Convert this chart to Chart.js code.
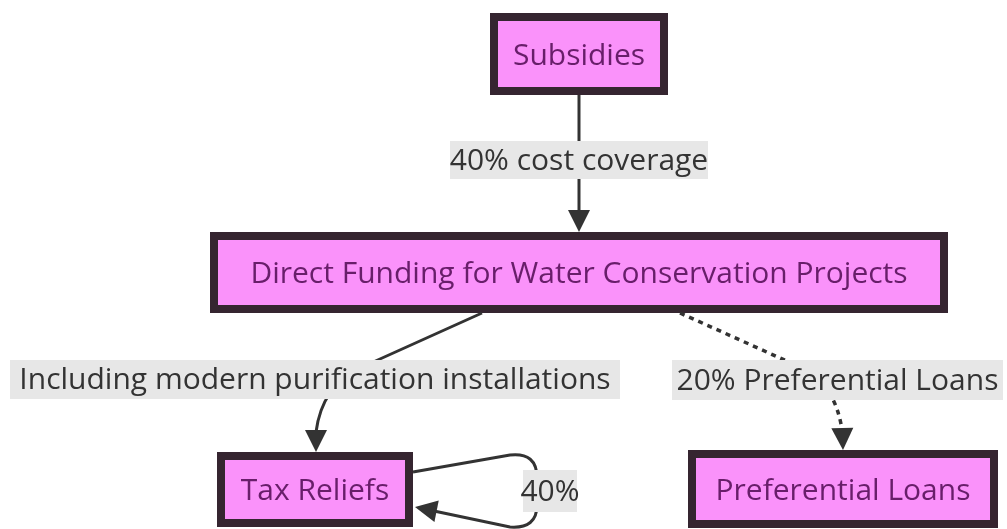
<!DOCTYPE html>
<html>
<head>
<meta charset="utf-8">
<script src="https://cdn.jsdelivr.net/npm/chart.js@4"></script>
<style>
  html, body { margin: 0; padding: 0; background: #fff; }
  #wrap { width: 1007px; height: 529px; }
</style>
</head>
<body>
<div id="wrap"><canvas id="flowChart" width="1007" height="529"></canvas></div>
<script>
// nodes and edges of the diagram
const nodeLabels = ['Subsidies', 'Direct Funding for Water Conservation Projects', 'Tax Reliefs', 'Preferential Loans'];
const edgeFrom = [0, 1, 1, 2];
const edgeTo = [1, 2, 3, 2];
const edgeLabels = ['40% cost coverage', 'Including modern purification installations', '20% Preferential Loans', '40%'];
const edgeDotted = [false, false, true, false];

// layout (page units, y grows downward)
const layout = {
	boxes: [[490, 13, 668, 95], [210, 232, 948, 313], [217, 452, 413, 527], [688, 450, 998, 528]],
	labelBoxes: [[450, 141, 708, 179], [10, 360, 620, 399], [672, 360, 1003, 400], [523, 470, 577, 512]],
	// each path: list of segments ['M',x,y] ['L',x,y] ['Q',cx,cy,x,y]; arrow: [fromX, fromY, tipX, tipY]
	paths: [
		[[['M', 579, 95], ['L', 579, 214]]],
		[[['M', 482, 313], ['L', 360, 368], ['Q', 322, 386, 316, 432]]],
		[[['M', 680, 313], ['L', 800, 367], ['Q', 835, 383, 842, 430]]],
		[[['M', 413, 472], ['L', 510, 455], ['Q', 537, 452, 537, 478]],
		 [['M', 537, 505], ['Q', 537, 529, 510, 527], ['L', 434, 511]]]
	],
	arrows: [[579, 200, 579, 232], [316, 420, 316, 452], [842, 418, 843, 450], [470, 518, 415, 507]]
};

const fillPink = '#fa92fa';
const borderDark = '#352530';
const nodeText = '#681e6a';
const edgeColor = '#333333';
const labelBg = '#e7e7e7';
const fontFamily = '"Trebuchet MS", "Open Sans", sans-serif';

const flowPlugin = {
	id: 'flowPlugin',
	afterDatasetsDraw(chart) {
		const ctx = chart.ctx;
		const sx = chart.scales.x, sy = chart.scales.y;
		const px = v => sx.getPixelForValue(v);
		const py = v => sy.getPixelForValue(v);

		// common font size, fitted to the longest edge label
		ctx.font = '100px ' + fontFamily;
		const w100 = ctx.measureText(edgeLabels[1]).width;
		const fontSize = Math.min(30, 100 * 604 / w100);
		const font = fontSize.toFixed(1) + 'px ' + fontFamily;

		ctx.save();
		// nodes
		nodeLabels.forEach((label, i) => {
			const b = layout.boxes[i];
			const x1 = px(b[0]), y1 = py(b[1]), x2 = px(b[2]), y2 = py(b[3]);
			ctx.fillStyle = fillPink;
			ctx.fillRect(x1, y1, x2 - x1, y2 - y1);
			ctx.lineWidth = 8;
			ctx.strokeStyle = borderDark;
			ctx.strokeRect(x1 + 4, y1 + 4, x2 - x1 - 8, y2 - y1 - 8);
			ctx.fillStyle = nodeText;
			ctx.font = font;
			ctx.textAlign = 'center';
			ctx.textBaseline = 'middle';
			ctx.fillText(label, (x1 + x2) / 2, (y1 + y2) / 2 + 2);
		});

		// edges
		edgeLabels.forEach((label, i) => {
			ctx.strokeStyle = edgeColor;
			ctx.lineWidth = edgeDotted[i] ? 3.5 : 3;
			ctx.setLineDash(edgeDotted[i] ? [5, 5] : []);
			layout.paths[i].forEach(seg => {
				ctx.beginPath();
				seg.forEach(s => {
					if (s[0] === 'M') ctx.moveTo(px(s[1]), py(s[2]));
					else if (s[0] === 'L') ctx.lineTo(px(s[1]), py(s[2]));
					else ctx.quadraticCurveTo(px(s[1]), py(s[2]), px(s[3]), py(s[4]));
				});
				ctx.stroke();
			});
			ctx.setLineDash([]);

			// arrow head
			const a = layout.arrows[i];
			const fx = px(a[0]), fy = py(a[1]), tx = px(a[2]), ty = py(a[3]);
			const ang = Math.atan2(ty - fy, tx - fx);
			const len = 22, half = 11;
			const bx = tx - len * Math.cos(ang), by = ty - len * Math.sin(ang);
			ctx.fillStyle = edgeColor;
			ctx.beginPath();
			ctx.moveTo(tx, ty);
			ctx.lineTo(bx + half * Math.sin(ang), by - half * Math.cos(ang));
			ctx.lineTo(bx - half * Math.sin(ang), by + half * Math.cos(ang));
			ctx.closePath();
			ctx.fill();

			// label
			const lb = layout.labelBoxes[i];
			const lx1 = px(lb[0]), ly1 = py(lb[1]), lx2 = px(lb[2]), ly2 = py(lb[3]);
			ctx.fillStyle = labelBg;
			ctx.fillRect(lx1, ly1, lx2 - lx1, ly2 - ly1);
			ctx.fillStyle = edgeColor;
			ctx.font = font;
			ctx.textAlign = 'center';
			ctx.textBaseline = 'middle';
			ctx.fillText(label, (lx1 + lx2) / 2, (ly1 + ly2) / 2 + 1);
		});
		ctx.restore();
	}
};

const ctx = document.getElementById('flowChart').getContext('2d');
new Chart(ctx, {
	type: 'scatter',
	data: {
		datasets: [{
			label: 'nodes',
			data: layout.boxes.map(b => ({ x: (b[0] + b[2]) / 2, y: (b[1] + b[3]) / 2 })),
			pointRadius: 0
		}]
	},
	options: {
		responsive: false,
		animation: false,
		layout: { padding: 0 },
		plugins: { legend: { display: false }, tooltip: { enabled: false } },
		scales: {
			x: { type: 'linear', min: 0, max: 1007, display: false },
			y: { type: 'linear', min: 0, max: 529, reverse: true, display: false }
		}
	},
	plugins: [flowPlugin]
});
</script>
</body>
</html>
